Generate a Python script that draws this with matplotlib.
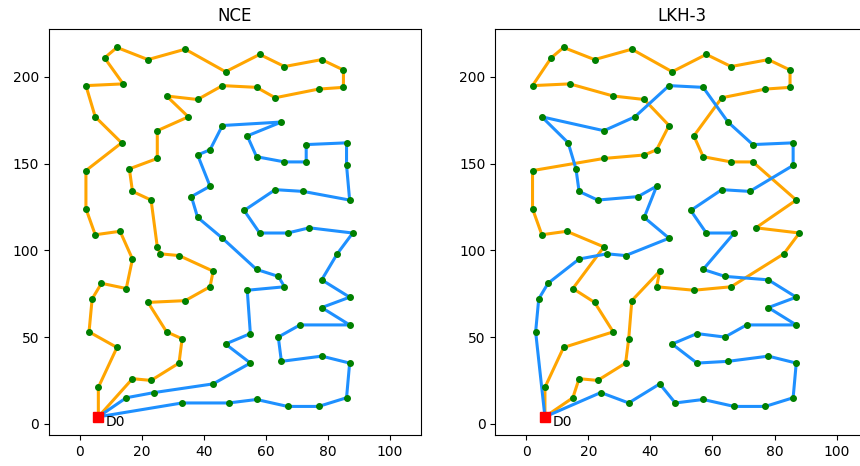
import matplotlib
matplotlib.use("Agg")
import matplotlib.pyplot as plt

# depot
depot = (6, 4)

# customer coordinates, index 1..98 (index 0 = depot)
xs = [6,
      6, 12, 3, 4, 7, 15, 17, 13, 5, 2,
      2, 13.5, 5, 2, 14, 8, 12, 22, 34, 47,
      58, 66, 78, 85, 85, 77, 63, 57, 46, 38,
      28, 35, 25, 25, 16, 17, 23, 25, 26, 32,
      43, 42, 34, 22, 28, 33, 32, 23, 17, 15,
      24, 43, 55, 47, 55, 54, 66, 64, 57, 46,
      38, 36, 42, 38, 42, 46, 65, 54, 57, 66,
      73, 73, 86, 86, 87, 72, 63, 53, 58, 67,
      74, 88, 83, 78, 87, 78, 87, 71, 64, 65,
      78, 87, 86, 77, 67, 57, 48, 33]
ys = [4,
      21, 44, 53, 72, 81, 78, 95, 111, 109, 124,
      146, 162, 177, 195, 196, 211, 217, 210, 216, 203,
      213, 206, 210, 204, 194, 193, 188, 194, 195, 187,
      189, 177, 169, 153, 147, 134, 129, 102, 98, 97,
      88, 79, 71, 70, 53, 49, 35, 25, 26, 15,
      18, 23, 35, 46, 52, 77, 79, 85, 89, 107,
      119, 131, 137, 155, 158, 172, 174, 166, 154, 151,
      151, 161, 162, 149, 129, 134, 135, 123, 110, 110,
      113, 110, 98, 83, 73, 67, 57, 57, 50, 36,
      39, 35, 15, 10, 10, 14, 12, 12]

# routes (node indices), orange first then blue
nce_orange = [0] + list(range(1, 50)) + [0]
nce_blue = [0] + list(range(50, 99)) + [0]

lkh_orange = [0, 50, 49, 48, 47, 46, 43, 41, 42, 56, 57, 83, 82, 81, 75, 71, 70,
              69, 68, 27, 26, 25, 24, 23, 22, 21, 20, 19, 18, 17, 16, 14, 15, 31,
              30, 66, 65, 64, 34, 11, 10, 9, 8, 38, 6, 44, 45, 2, 1, 0]
lkh_blue = [0, 3, 4, 5, 7, 39, 40, 60, 61, 63, 62, 37, 36, 35, 12, 13, 33, 32,
            29, 28, 67, 72, 73, 74, 76, 77, 78, 79, 80, 59, 58, 84, 85, 86, 87,
            88, 89, 55, 54, 53, 90, 91, 92, 93, 94, 95, 96, 97, 52, 98, 51, 0]

panels = [("NCE", nce_orange, nce_blue), ("LKH-3", lkh_orange, lkh_blue)]

fig = plt.figure(figsize=(8.6, 4.66), dpi=100)
lefts = [48.7, 495.3]

for left, (title, r_orange, r_blue) in zip(lefts, panels):
    ax = fig.add_axes([left / 860, 30.7 / 466, 372.3 / 860, 406.3 / 466])
    for route, col in [(r_orange, "orange"), (r_blue, "dodgerblue")]:
        ax.plot([xs[i] for i in route], [ys[i] for i in route],
                color=col, lw=2.2, zorder=2)
    ax.scatter(xs[1:], ys[1:], s=16, color="green", zorder=3)
    ax.plot(depot[0], depot[1], "s", color="red", markersize=7.5, zorder=4)
    ax.text(depot[0] + 2.5, depot[1] - 3, "D0", fontsize=10, va="center", ha="left")
    ax.set_xlim(-10, 110)
    ax.set_title(title)

fig.savefig("out.png", dpi=100)
